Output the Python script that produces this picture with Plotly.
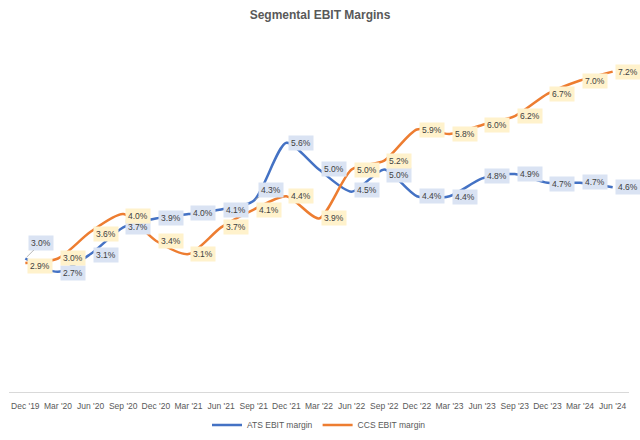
import plotly.graph_objects as go

categories = ["Dec '19", "Mar '20", "Jun '20", "Sep '20", "Dec '20", "Mar '21", "Jun '21",
              "Sep '21", "Dec '21", "Mar '22", "Jun '22", "Sep '22", "Dec '22", "Mar '23",
              "Jun '23", "Sep '23", "Dec '23", "Mar '24", "Jun '24"]
ats_margin = [3.0, 2.7, 3.1, 3.7, 3.9, 4.0, 4.1, 4.3, 5.6, 5.0, 4.5, 5.0, 4.4, 4.4, 4.8, 4.9, 4.7, 4.7, 4.6]
ccs_margin = [2.9, 3.0, 3.6, 4.0, 3.4, 3.1, 3.7, 4.1, 4.4, 3.9, 5.0, 5.2, 5.9, 5.8, 6.0, 6.2, 6.7, 7.0, 7.2]

# label vertical nudges (px, up positive); leader-line labels handled separately
ats_label_dy = [0, -1, -1, 0, 0, 1, 0, 0, 0, 1, 2, -5, 0, -1, 2, 0, -1, 1, 0]
ccs_label_dy = [-3, 1, -2, -2, 0, 0, 0, 0, 0, 0, 0, 0, -1, 0, 0, 0, 0, 0, 0]
ats_leader = {0: (16, -16), 7: (17, -11)}

BLUE = "#4472C4"
ORANGE = "#ED7D31"
TXT = "#404040"
LBL_FONT = dict(family="Liberation Sans", size=8.5, color=TXT)

fig = go.Figure()
fig.add_trace(go.Scatter(x=categories, y=ats_margin, name="ATS EBIT margin", mode="lines",
                         line=dict(color=BLUE, width=2.5, shape="spline", smoothing=0.7)))
fig.add_trace(go.Scatter(x=categories, y=ccs_margin, name="CCS EBIT margin", mode="lines",
                         line=dict(color=ORANGE, width=2.5, shape="spline", smoothing=0.7)))

annotations = []
def add_labels(values, dys, bg, leaders):
    for i, (c, v) in enumerate(zip(categories, values)):
        txt = f"{v:.1f}%"
        if i in leaders:
            ax, ay = leaders[i]
            annotations.append(dict(x=c, y=v, text=txt, showarrow=True, arrowhead=0,
                                    arrowwidth=0.8, arrowcolor="#A6A6A6", ax=ax, ay=ay,
                                    standoff=2, bgcolor=bg, borderpad=2, font=LBL_FONT))
        else:
            annotations.append(dict(x=c, y=v, text=txt, showarrow=False, xanchor="left",
                                    yanchor="middle", xshift=2, yshift=dys[i], bgcolor=bg,
                                    borderpad=2, font=LBL_FONT))

add_labels(ats_margin, ats_label_dy, "#DAE3F3", ats_leader)
add_labels(ccs_margin, ccs_label_dy, "#FFF2CC", {})

fig.update_layout(
    width=640, height=440,
    margin=dict(l=9, r=11, t=36, b=48, autoexpand=False),
    paper_bgcolor="white", plot_bgcolor="white",
    title=dict(text="<b>Segmental EBIT Margins</b>", x=0.5, xanchor="center", y=0.966,
               yanchor="middle", font=dict(family="Liberation Sans", size=12, color="#595959")),
    showlegend=True,
    legend=dict(orientation="h", x=0.5, xanchor="center", yref="container", y=1 - 425 / 440,
                yanchor="middle",
                font=dict(family="Liberation Sans", size=8.5, color="#595959"),
                itemwidth=30),
    annotations=annotations,
)
fig.update_xaxes(type="category", range=[-0.5, 18.5], showgrid=False, showline=True,
                 linecolor="#D9D9D9", linewidth=1, ticks="", ticklabelstandoff=6,
                 tickfont=dict(family="Liberation Sans", size=8.5, color="#595959"),
                 zeroline=False, fixedrange=True, automargin=False)
fig.update_yaxes(range=[0, 8], visible=False, showgrid=False, zeroline=False)

fig.write_html("out.html", config={"displayModeBar": False},
               post_script="document.body.style.margin='0';")
